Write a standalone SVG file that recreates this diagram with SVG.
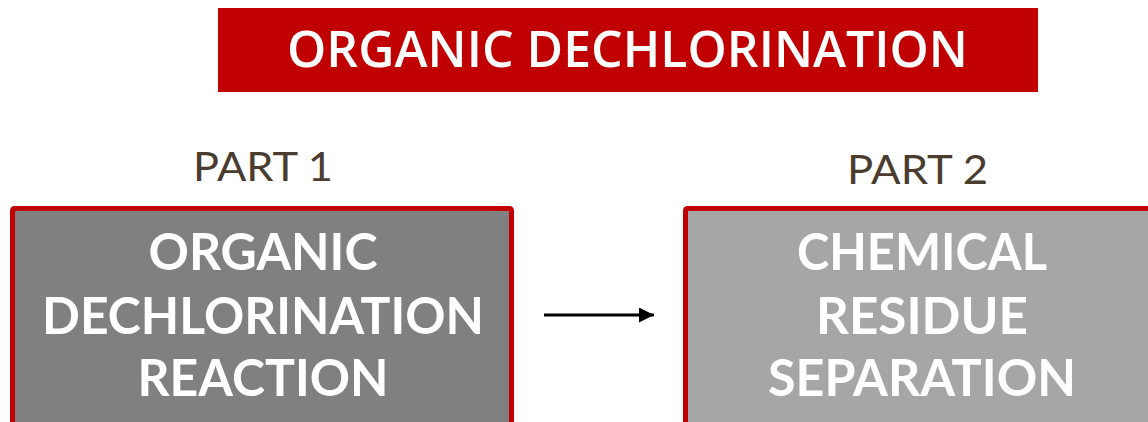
<svg xmlns="http://www.w3.org/2000/svg" width="1148" height="422" viewBox="0 0 1148 422">
  <defs>
    <style>
      .title { font-family: "Open Sans", "Liberation Sans", sans-serif; font-weight: 600; font-size: 50px; fill: #ffffff; }
      .part { font-family: Lato, "Liberation Sans", sans-serif; font-size: 40px; fill: #4a3c2e; }
      .box { stroke: #c00000; stroke-width: 5; }
      .label { font-family: Lato, "Liberation Sans", sans-serif; font-weight: 700; font-size: 51px; fill: #ffffff; text-anchor: middle; }
    </style>
    <marker id="arrow" viewBox="0 0 10 10" refX="10" refY="5" markerWidth="5.5" markerHeight="5" markerUnits="strokeWidth" orient="auto">
      <path d="M0,0 L10,5 L0,10 z" fill="#000000"/>
    </marker>
  </defs>
  <rect width="1148" height="422" fill="#ffffff"/>
  <g id="title">
    <rect x="218" y="8" width="820" height="84" fill="#c00000"/>
    <text class="title" x="287" y="67" textLength="681" lengthAdjust="spacingAndGlyphs">ORGANIC DECHLORINATION</text>
  </g>
  <g id="part1-label">
    <text class="part" x="193" y="181" textLength="140" lengthAdjust="spacingAndGlyphs">PART 1</text>
  </g>
  <g id="part2-label">
    <text class="part" x="847" y="184" textLength="141" lengthAdjust="spacingAndGlyphs">PART 2</text>
  </g>
  <g id="node1">
    <rect class="box" x="12.5" y="208.5" width="499" height="220" rx="2" fill="#808080"/>
    <text class="label" x="263" y="270" textLength="229" lengthAdjust="spacingAndGlyphs">ORGANIC</text>
    <text class="label" x="263" y="334" textLength="442" lengthAdjust="spacingAndGlyphs">DECHLORINATION</text>
    <text class="label" x="263" y="396" textLength="251" lengthAdjust="spacingAndGlyphs">REACTION</text>
  </g>
  <g id="node2">
    <rect class="box" x="685.5" y="208.5" width="470" height="220" rx="2" fill="#a6a6a6"/>
    <text class="label" x="922" y="270" textLength="250" lengthAdjust="spacingAndGlyphs">CHEMICAL</text>
    <text class="label" x="922" y="334" textLength="212" lengthAdjust="spacingAndGlyphs">RESIDUE</text>
    <text class="label" x="922" y="396" textLength="308" lengthAdjust="spacingAndGlyphs">SEPARATION</text>
  </g>
  <g id="connectors">
    <line x1="544" y1="315" x2="654" y2="315" stroke="#000000" stroke-width="3" marker-end="url(#arrow)"/>
  </g>
</svg>
